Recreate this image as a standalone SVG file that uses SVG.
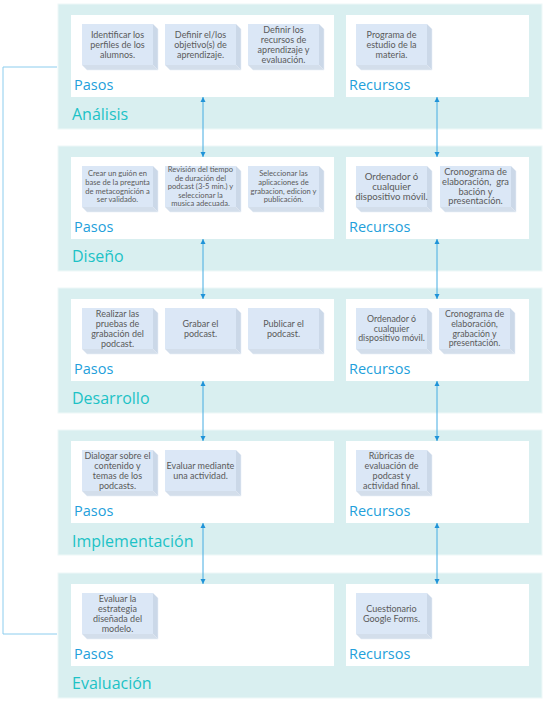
<svg xmlns="http://www.w3.org/2000/svg" xmlns:xlink="http://www.w3.org/1999/xlink" width="546" height="702" viewBox="0 0 546 702">
<style>
.panel{fill:#d9eff0;stroke:#eef8f8;stroke-width:1}
.inner{fill:#ffffff}
.lbl{font-family:"Open Sans","Liberation Sans",sans-serif;font-size:14.5px;fill:#239fdb}
.ttl{font-family:"Open Sans","Liberation Sans",sans-serif;font-size:16px;fill:#1cc2c6}
.bt{font-family:Lato,"Liberation Sans",sans-serif;font-size:9px;fill:#5a5a5a;text-anchor:middle}
.bs{font-family:Lato,"Liberation Sans",sans-serif;font-size:7.6px;fill:#5a5a5a;text-anchor:middle}
.conn{stroke:#45ace2;stroke-width:1;fill:none}
.brk{stroke:#8ccdee;stroke-width:1;fill:none}
</style>
<defs>
<g id="bx">
<polygon points="71,0 76,5 76,46 71,41" fill="#cbd8e8"/>
<polygon points="0,41 71,41 76,46 5,46" fill="#d3deeb"/>
<rect x="0" y="0" width="71" height="41" fill="#dbe7f6"/>
<polyline points="71,0 76,5 76,46 5,46 0,41" fill="none" stroke="#e8eef6" stroke-width="0.6"/>
</g>
<marker id="ah" viewBox="0 0 10 10" refX="10" refY="5" markerWidth="5" markerHeight="6" markerUnits="userSpaceOnUse" orient="auto-start-reverse">
<path d="M0,0 L10,5 L0,10 z" fill="#1f93d8"/>
</marker>
</defs>

<path class="brk" d="M57,67 H3 V634 H57"/>

<!-- Análisis -->
<g id="analisis">
<rect class="panel" x="58" y="4" width="484" height="125"/>
<rect class="inner" x="71" y="15" width="263" height="82"/>
<rect class="inner" x="346" y="15" width="183" height="82"/>
<text class="lbl" x="74" y="90">Pasos</text>
<text class="lbl" x="349" y="90">Recursos</text>
<text class="ttl" x="72" y="120">Análisis</text>
</g>
<g id="analisis-p1"><use xlink:href="#bx" x="82" y="24"/><text class="bt" x="117.5" y="37.7"><tspan x="117.5">Identificar los</tspan><tspan x="117.5" dy="10">perfiles de los</tspan><tspan x="117.5" dy="10">alumnos.</tspan></text></g>
<g id="analisis-p2"><use xlink:href="#bx" x="165" y="24"/><text class="bt" x="200.5" y="37.7"><tspan x="200.5">Definir el/los</tspan><tspan x="200.5" dy="10">objetivo(s) de</tspan><tspan x="200.5" dy="10">aprendizaje.</tspan></text></g>
<g id="analisis-p3"><use xlink:href="#bx" x="248" y="24"/><text class="bt" x="283.5" y="32.7"><tspan x="283.5">Definir los</tspan><tspan x="283.5" dy="10">recursos de</tspan><tspan x="283.5" dy="10">aprendizaje y</tspan><tspan x="283.5" dy="10">evaluación.</tspan></text></g>
<g id="analisis-r1"><use xlink:href="#bx" x="356" y="24"/><text class="bt" x="391.5" y="37.7"><tspan x="391.5">Programa de</tspan><tspan x="391.5" dy="10">estudio de la</tspan><tspan x="391.5" dy="10">materia.</tspan></text></g>

<!-- Diseño -->
<g id="diseno">
<rect class="panel" x="58" y="146" width="484" height="125"/>
<rect class="inner" x="71" y="157" width="263" height="82"/>
<rect class="inner" x="346" y="157" width="183" height="82"/>
<text class="lbl" x="74" y="232">Pasos</text>
<text class="lbl" x="349" y="232">Recursos</text>
<text class="ttl" x="72" y="262">Diseño</text>
</g>
<g id="diseno-p1"><use xlink:href="#bx" x="82" y="166"/><text class="bs" x="117.5" y="176.2"><tspan x="117.5">Crear un guión en</tspan><tspan x="117.5" dy="8.7">base de la pregunta</tspan><tspan x="117.5" dy="8.7">de metacognición a</tspan><tspan x="117.5" dy="8.7">ser validado.</tspan></text></g>
<g id="diseno-p2"><use xlink:href="#bx" x="165" y="166"/><text class="bs" x="200.5" y="172.2"><tspan x="200.5">Revisión del tiempo</tspan><tspan x="200.5" dy="8.5">de duración del</tspan><tspan x="200.5" dy="8.5">podcast (3-5 min.) y</tspan><tspan x="200.5" dy="8.5">seleccionar la</tspan><tspan x="200.5" dy="8.5">musica adecuada.</tspan></text></g>
<g id="diseno-p3"><use xlink:href="#bx" x="248" y="166"/><text class="bs" x="283.5" y="176.2"><tspan x="283.5">Seleccionar las</tspan><tspan x="283.5" dy="8.7">aplicaciones de</tspan><tspan x="283.5" dy="8.7">grabacion, edicion y</tspan><tspan x="283.5" dy="8.7">publicación.</tspan></text></g>
<g id="diseno-r1"><use xlink:href="#bx" x="356" y="166"/><text class="bt" style="font-size:9.6px" x="391.5" y="179.8"><tspan x="391.5">Ordenador ó</tspan><tspan x="391.5" dy="10">cualquier</tspan><tspan x="391.5" dy="10">dispositivo móvil.</tspan></text></g>
<g id="diseno-r2"><use xlink:href="#bx" x="440" y="166"/><text class="bt" style="font-size:9.3px" x="475.5" y="175.2"><tspan x="475.5">Cronograma de</tspan><tspan x="475.5" dy="9.7">elaboración,&#160; gra</tspan><tspan x="475.5" dy="9.7">bación y</tspan><tspan x="475.5" dy="9.7">presentación.</tspan></text></g>

<!-- Desarrollo -->
<g id="desarrollo">
<rect class="panel" x="58" y="288" width="484" height="125"/>
<rect class="inner" x="71" y="299" width="263" height="82"/>
<rect class="inner" x="346" y="299" width="183" height="82"/>
<text class="lbl" x="74" y="374">Pasos</text>
<text class="lbl" x="349" y="374">Recursos</text>
<text class="ttl" x="72" y="404">Desarrollo</text>
</g>
<g id="desarrollo-p1"><use xlink:href="#bx" x="82" y="308"/><text class="bt" x="117.5" y="316.7"><tspan x="117.5">Realizar las</tspan><tspan x="117.5" dy="10">pruebas de</tspan><tspan x="117.5" dy="10">grabación del</tspan><tspan x="117.5" dy="10">podcast.</tspan></text></g>
<g id="desarrollo-p2"><use xlink:href="#bx" x="165" y="308"/><text class="bt" x="200.5" y="326.7"><tspan x="200.5">Grabar el</tspan><tspan x="200.5" dy="10">podcast.</tspan></text></g>
<g id="desarrollo-p3"><use xlink:href="#bx" x="248" y="308"/><text class="bt" x="283.5" y="326.7"><tspan x="283.5">Publicar el</tspan><tspan x="283.5" dy="10">podcast.</tspan></text></g>
<g id="desarrollo-r1"><use xlink:href="#bx" x="356" y="308"/><text class="bt" style="font-size:8.8px" x="391.5" y="322.1"><tspan x="391.5">Ordenador ó</tspan><tspan x="391.5" dy="9.6">cualquier</tspan><tspan x="391.5" dy="9.6">dispositivo móvil.</tspan></text></g>
<g id="desarrollo-r2"><use xlink:href="#bx" x="439" y="308"/><text class="bt" style="font-size:8.8px" x="474.5" y="317.1"><tspan x="474.5">Cronograma de</tspan><tspan x="474.5" dy="9.7">elaboración,</tspan><tspan x="474.5" dy="9.7">grabación y</tspan><tspan x="474.5" dy="9.7">presentación.</tspan></text></g>

<!-- Implementación -->
<g id="implementacion">
<rect class="panel" x="58" y="430" width="484" height="125"/>
<rect class="inner" x="71" y="441" width="263" height="82"/>
<rect class="inner" x="346" y="441" width="183" height="82"/>
<text class="lbl" x="74" y="516">Pasos</text>
<text class="lbl" x="349" y="516">Recursos</text>
<text class="ttl" x="72" y="547">Implementación</text>
</g>
<g id="implementacion-p1"><use xlink:href="#bx" x="82" y="450"/><text class="bt" x="117.5" y="458.7"><tspan x="117.5">Dialogar sobre el</tspan><tspan x="117.5" dy="10">contenido y</tspan><tspan x="117.5" dy="10">temas de los</tspan><tspan x="117.5" dy="10">podcasts.</tspan></text></g>
<g id="implementacion-p2"><use xlink:href="#bx" x="165" y="450"/><text class="bt" x="200.5" y="468.7"><tspan x="200.5">Evaluar mediante</tspan><tspan x="200.5" dy="10">una actividad.</tspan></text></g>
<g id="implementacion-r1"><use xlink:href="#bx" x="356" y="450"/><text class="bt" x="391.5" y="458.7"><tspan x="391.5">Rúbricas de</tspan><tspan x="391.5" dy="10">evaluación de</tspan><tspan x="391.5" dy="10">podcast y</tspan><tspan x="391.5" dy="10">actividad final.</tspan></text></g>

<!-- Evaluación -->
<g id="evaluacion">
<rect class="panel" x="58" y="573" width="484" height="125"/>
<rect class="inner" x="71" y="584" width="263" height="82"/>
<rect class="inner" x="346" y="584" width="183" height="82"/>
<text class="lbl" x="74" y="659">Pasos</text>
<text class="lbl" x="349" y="659">Recursos</text>
<text class="ttl" x="72" y="689">Evaluación</text>
</g>
<g id="evaluacion-p1"><use xlink:href="#bx" x="82" y="593"/><text class="bt" x="117.5" y="601.7"><tspan x="117.5">Evaluar la</tspan><tspan x="117.5" dy="10">estrategia</tspan><tspan x="117.5" dy="10">diseñada del</tspan><tspan x="117.5" dy="10">modelo.</tspan></text></g>
<g id="evaluacion-r1"><use xlink:href="#bx" x="356" y="593"/><text class="bt" x="391.5" y="611.7"><tspan x="391.5">Cuestionario</tspan><tspan x="391.5" dy="10">Google Forms.</tspan></text></g>

<g id="connectors">
<line class="conn" x1="203" y1="97" x2="203" y2="157" marker-start="url(#ah)" marker-end="url(#ah)"/>
<line class="conn" x1="437" y1="97" x2="437" y2="157" marker-start="url(#ah)" marker-end="url(#ah)"/>
<line class="conn" x1="203" y1="239" x2="203" y2="299" marker-start="url(#ah)" marker-end="url(#ah)"/>
<line class="conn" x1="437" y1="239" x2="437" y2="299" marker-start="url(#ah)" marker-end="url(#ah)"/>
<line class="conn" x1="203" y1="381" x2="203" y2="441" marker-start="url(#ah)" marker-end="url(#ah)"/>
<line class="conn" x1="437" y1="381" x2="437" y2="441" marker-start="url(#ah)" marker-end="url(#ah)"/>
<line class="conn" x1="203" y1="523" x2="203" y2="584" marker-start="url(#ah)" marker-end="url(#ah)"/>
<line class="conn" x1="437" y1="523" x2="437" y2="584" marker-start="url(#ah)" marker-end="url(#ah)"/>
</g>
</svg>
